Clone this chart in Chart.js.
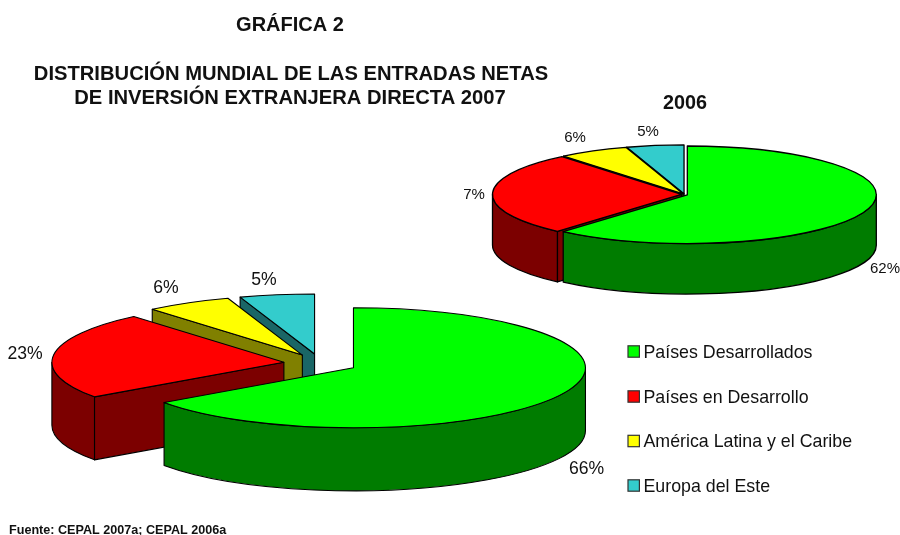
<!DOCTYPE html>
<html lang="es">
<head>
<meta charset="utf-8">
<title>Gráfica 2</title>
<script src="https://cdn.jsdelivr.net/npm/chart.js@4"></script>
<style>
html,body{margin:0;padding:0;background:#fff;width:900px;height:535px;overflow:hidden}
canvas{position:absolute;left:0;top:0}
</style>
</head>
<body>
<canvas id="a" width="900" height="535"></canvas>
<canvas id="b" width="900" height="535"></canvas>
<script>
const categories = ['Países Desarrollados','Países en Desarrollo','América Latina y el Caribe','Europa del Este'];
const shares2007 = [65.2, 23.6, 6.0, 5.2];
const labels2007 = ['66%','23%','6%','5%'];
const shares2006 = [61.4, 27.7, 6.0, 4.9];
const labels2006 = ['62%','7%','6%','5%'];

const topColors  = ['#00ff00','#ff0000','#ffff00','#33cccc'];
const wallColors = ['#007c00','#7c0000','#808000','#1a6666'];
const FONT = '"Liberation Sans", Arial, sans-serif';

function wall(ctx, draw, fill){
  ctx.beginPath(); draw(); ctx.closePath();
  ctx.fillStyle = fill; ctx.fill(); ctx.stroke();
}

const pie3d = {
  id:'pie3d',
  beforeDatasetDraw(chart, args, opts){
    const ctx = chart.ctx, arcs = chart.getDatasetMeta(args.index).data;
    const k = opts.squash, depth = opts.depth, e = opts.explode;
    const order = arcs.map((arc,i)=>i).sort((p,q)=>{
      const m = i=>(arcs[i].startAngle+arcs[i].endAngle)/2;
      return Math.sin(m(p))-Math.sin(m(q));
    });
    ctx.save();
    ctx.strokeStyle='#000'; ctx.lineWidth=opts.line; ctx.lineJoin='round';
    order.forEach(i=>{
      const arc=arcs[i], s=arc.startAngle, t=arc.endAngle, mid=(s+t)/2;
      const rx=arc.outerRadius, ry=rx*k;
      const sx=arc.x+Math.cos(mid)*e, sy=arc.y+Math.sin(mid)*e*k;
      const px=a=>sx+rx*Math.cos(a), py=a=>sy+ry*Math.sin(a);
      const face=a=>wall(ctx,()=>{
        ctx.moveTo(sx,sy); ctx.lineTo(px(a),py(a));
        ctx.lineTo(px(a),py(a)+depth); ctx.lineTo(sx,sy+depth);
      },wallColors[i]);
      if(Math.cos(s)<-1e-6) face(s);
      if(Math.cos(t)>1e-6) face(t);
      const lo=Math.max(s,0), hi=Math.min(t,Math.PI);
      if(hi>lo) wall(ctx,()=>{
        ctx.ellipse(sx,sy,rx,ry,0,lo,hi);
        ctx.ellipse(sx,sy+depth,rx,ry,0,hi,lo,true);
      },wallColors[i]);
      ctx.save();
      ctx.translate(sx,sy); ctx.scale(1,k); ctx.translate(-arc.x,-arc.y);
      arc.draw(ctx);
      ctx.restore();
      ctx.beginPath();
      ctx.moveTo(sx,sy); ctx.ellipse(sx,sy,rx,ry,0,s,t); ctx.closePath();
      ctx.stroke();
    });
    ctx.restore();
    return false;
  },
  afterDraw(chart, args, opts){
    const ctx=chart.ctx;
    ctx.save();
    ctx.textBaseline='middle';
    (opts.texts||[]).forEach(t=>{
      ctx.fillStyle='#111';
      ctx.font=(t.bold?'bold ':'')+t.size+'px '+FONT;
      ctx.textAlign=t.align||'center';
      ctx.fillText(t.text,t.x,t.y);
    });
    (opts.legend||[]).forEach(r=>{
      ctx.fillStyle=r.color; ctx.strokeStyle='#333'; ctx.lineWidth=1.2;
      ctx.fillRect(628,r.y-5.7,11.4,11.4); ctx.strokeRect(628,r.y-5.7,11.4,11.4);
      ctx.fillStyle='#111'; ctx.font='17.8px '+FONT; ctx.textAlign='left';
      ctx.fillText(r.text,643.5,r.y+1.2);
    });
    ctx.restore();
  }
};

function makePie(id, values, padding, radius, plug){
  return new Chart(document.getElementById(id),{
    type:'pie',
    data:{labels:categories,datasets:[{data:values,backgroundColor:topColors,borderWidth:0}]},
    plugins:[pie3d],
    options:{
      responsive:false,animation:false,radius,layout:{padding},
      events:[],
      plugins:{legend:{display:false},title:{display:false},tooltip:{enabled:false},pie3d:plug}
    }
  });
}

const legendRows=[351.5,396.5,441,485.5];
makePie('a',shares2007,{left:0,right:258.8,top:191.8,bottom:0},232,{
  squash:0.2586,depth:63,explode:37,line:1.1,
  legend:categories.map((text,i)=>({text,color:topColors[i],y:legendRows[i]})),
  texts:[
    {text:'GRÁFICA 2',x:290,y:25.5,size:20,bold:true},
    {text:'DISTRIBUCIÓN MUNDIAL DE LAS ENTRADAS NETAS',x:291,y:74.5,size:20.2,bold:true},
    {text:'DE INVERSIÓN EXTRANJERA DIRECTA 2007',x:290,y:98.5,size:20.2,bold:true},
    {text:'Fuente: CEPAL 2007a; CEPAL 2006a',x:9,y:531,size:12.6,bold:true,align:'left'},
    {text:labels2007[0],x:586.5,y:469,size:17.6},
    {text:labels2007[1],x:25,y:354,size:17.6},
    {text:labels2007[2],x:166,y:288,size:17.6},
    {text:labels2007[3],x:264,y:280,size:17.6}
  ]
});
makePie('b',shares2006,{left:469,right:0,top:0,bottom:146},189,{
  squash:0.258,depth:50.5,explode:3,line:1.3,
  texts:[
    {text:'2006',x:685,y:103.5,size:19.8,bold:true},
    {text:labels2006[0],x:885,y:269,size:15},
    {text:labels2006[1],x:474,y:194.5,size:15},
    {text:labels2006[2],x:575,y:138,size:15},
    {text:labels2006[3],x:648,y:132,size:15}
  ]
});
</script>
</body>
</html>
